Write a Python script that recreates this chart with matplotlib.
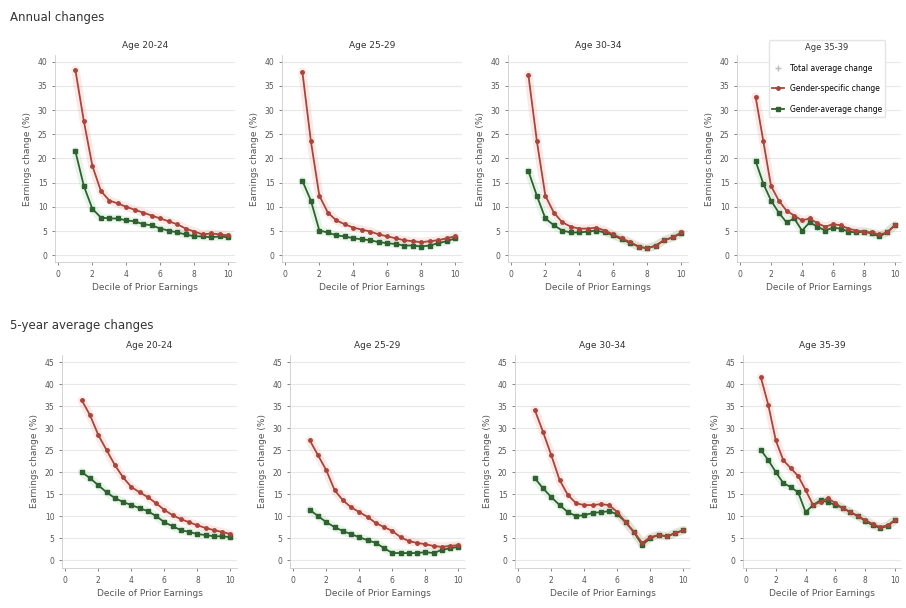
import numpy as np
import matplotlib
matplotlib.use("Agg")
import matplotlib.pyplot as plt
from matplotlib.lines import Line2D

# ---- data ----------------------------------------------------------
x_pos = [1, 1.5, 2, 2.5, 3, 3.5, 4, 4.5, 5, 5.5, 6, 6.5, 7, 7.5, 8, 8.5, 9, 9.5, 10]
ages = ["Age 20-24", "Age 25-29", "Age 30-34", "Age 35-39"]
x_ticks = [0, 2, 4, 6, 8, 10]
y_ticks_annual = [0, 5, 10, 15, 20, 25, 30, 35, 40]
y_ticks_5yr = [0, 5, 10, 15, 20, 25, 30, 35, 40, 45]
legend_labels = ["Total average change", "Gender-specific change", "Gender-average change"]

# annual changes: gender-specific (red) / gender-average (green)
annual_spec_2024 = [38.3, 27.7, 18.5, 13.3, 11.3, 10.7, 10.0, 9.4, 8.8, 8.2, 7.6, 7.0, 6.4, 5.5, 4.9, 4.3, 4.5, 4.3, 4.1]
annual_avg_2024 = [21.5, 14.3, 9.6, 7.8, 7.6, 7.6, 7.2, 7.0, 6.4, 6.2, 5.5, 5.1, 4.7, 4.3, 3.9, 3.9, 3.7, 3.9, 3.7]
annual_spec_2529 = [37.9, 23.6, 12.3, 8.8, 7.2, 6.4, 5.7, 5.3, 4.9, 4.3, 3.9, 3.5, 3.1, 2.9, 2.7, 2.9, 3.1, 3.5, 3.9]
annual_avg_2529 = [15.4, 11.3, 5.1, 4.7, 4.1, 3.9, 3.5, 3.3, 3.1, 2.7, 2.5, 2.3, 2.0, 2.0, 1.8, 2.0, 2.5, 2.9, 3.5]
annual_spec_3034 = [37.3, 23.6, 12.3, 8.8, 6.8, 5.9, 5.5, 5.5, 5.7, 5.1, 4.3, 3.5, 2.7, 1.8, 1.4, 2.0, 3.1, 3.7, 4.7]
annual_avg_3034 = [17.4, 12.3, 7.6, 6.2, 5.1, 4.7, 4.7, 4.9, 5.1, 4.7, 4.1, 3.3, 2.5, 1.8, 1.4, 2.0, 3.1, 3.7, 4.5]
annual_spec_3539 = [32.8, 23.6, 14.3, 11.3, 9.2, 8.2, 7.2, 7.6, 6.6, 5.9, 6.4, 6.2, 5.5, 5.1, 4.9, 4.7, 4.3, 4.7, 6.2]
annual_avg_3539 = [19.5, 14.8, 11.3, 8.8, 6.8, 7.6, 5.1, 6.8, 5.9, 5.1, 5.7, 5.5, 4.9, 4.7, 4.9, 4.5, 3.9, 4.7, 6.2]

# 5-year average changes
fivey_spec_2024 = [36.3, 32.9, 28.4, 25.0, 21.6, 18.8, 16.6, 15.4, 14.3, 12.9, 11.4, 10.2, 9.3, 8.6, 7.9, 7.3, 6.8, 6.4, 5.9]
fivey_avg_2024 = [20.0, 18.6, 17.0, 15.4, 14.1, 13.2, 12.5, 11.8, 11.1, 10.0, 8.6, 7.7, 6.8, 6.4, 5.9, 5.7, 5.4, 5.4, 5.2]
fivey_spec_2529 = [27.2, 23.8, 20.4, 15.9, 13.6, 12.0, 10.9, 9.8, 8.4, 7.5, 6.6, 5.2, 4.3, 3.9, 3.6, 3.2, 3.0, 3.2, 3.4]
fivey_avg_2529 = [11.4, 10.0, 8.6, 7.5, 6.6, 5.9, 5.2, 4.5, 3.9, 2.7, 1.6, 1.6, 1.6, 1.6, 1.8, 1.6, 2.3, 2.7, 3.0]
fivey_spec_3034 = [34.1, 29.1, 23.8, 18.2, 14.8, 12.9, 12.5, 12.5, 12.7, 12.5, 10.9, 8.6, 6.4, 3.9, 5.2, 5.7, 5.4, 6.1, 6.8]
fivey_avg_3034 = [18.6, 16.3, 14.3, 12.5, 10.9, 10.0, 10.2, 10.7, 10.9, 11.1, 10.4, 8.6, 6.4, 3.4, 5.0, 5.7, 5.4, 6.1, 6.8]
fivey_spec_3539 = [41.5, 35.2, 27.2, 22.7, 20.9, 19.1, 15.9, 12.5, 13.2, 14.1, 12.9, 11.8, 10.9, 10.0, 9.1, 8.2, 7.5, 7.9, 9.1]
fivey_avg_3539 = [25.0, 22.7, 20.0, 17.5, 16.6, 15.4, 10.9, 12.5, 13.6, 13.2, 12.5, 11.8, 10.9, 10.0, 8.9, 7.9, 7.3, 7.7, 9.1]

annual_spec = [annual_spec_2024, annual_spec_2529, annual_spec_3034, annual_spec_3539]
annual_avg = [annual_avg_2024, annual_avg_2529, annual_avg_3034, annual_avg_3539]
fivey_spec = [fivey_spec_2024, fivey_spec_2529, fivey_spec_3034, fivey_spec_3539]
fivey_avg = [fivey_avg_2024, fivey_avg_2529, fivey_avg_3034, fivey_avg_3539]

RED = "#a9453b"
GREEN = "#2f6131"
TXT = "#555555"

plt.rcParams["font.family"] = ["DejaVu Sans"]
fig = plt.figure(figsize=(9.06, 6.08), dpi=100)
W, H = 906.0, 608.0

# panel left edges in pixels
top_lefts = [55, 282, 508, 737]
bot_lefts = [62, 290, 515, 743]


def draw_panel(ax, spec, avg, yticks, ylim, title):
    # soft halo behind each line
    for ys, c in [(spec, "#e8877c"), (avg, "#7fc98a")]:
        ax.plot(x_pos, ys, color=c, lw=6, alpha=0.18, solid_capstyle="round", zorder=2)
    ax.plot(x_pos, spec, color=RED, lw=1.3, marker="o", ms=2.5, zorder=4)
    ax.plot(x_pos, avg, color=GREEN, lw=1.3, marker="s", ms=2.5, zorder=3)
    ax.set_xlim(-0.2, 10.4)
    ax.set_ylim(*ylim)
    ax.set_xticks(x_ticks)
    ax.set_yticks(yticks)
    ax.grid(axis="y", color="#e8e8e8", lw=0.8)
    ax.set_axisbelow(True)
    for s in ["top", "right"]:
        ax.spines[s].set_visible(False)
    for s in ["left", "bottom"]:
        ax.spines[s].set_color("#cccccc")
        ax.spines[s].set_linewidth(0.6)
    ax.tick_params(labelsize=5.5, colors=TXT, length=2, width=0.5)
    ax.set_xlabel("Decile of Prior Earnings", fontsize=6.5, color=TXT, labelpad=3)
    ax.set_ylabel("Earnings change (%)", fontsize=6.5, color=TXT, labelpad=4)
    if title:
        ax.set_title(title, fontsize=6.5, color="#333333", pad=5)


for i in range(4):
    w = 180 if i < 3 else 164
    ax = fig.add_axes([top_lefts[i] / W, 1 - 262 / H, w / W, 207 / H])
    draw_panel(ax, annual_spec[i], annual_avg[i], y_ticks_annual, (-1.4, 41.4),
               ages[i] if i < 3 else None)
    if i == 3:
        handles = [
            Line2D([], [], color="#bbbbbb", lw=0, marker="+", ms=4),
            Line2D([], [], color=RED, lw=1.3, marker="o", ms=2.5),
            Line2D([], [], color=GREEN, lw=1.3, marker="s", ms=2.5),
        ]
        leg = ax.legend(handles, legend_labels, title=ages[i], loc="upper left",
                        bbox_to_anchor=(0.17, 1.09), fontsize=5.5, title_fontsize=6,
                        labelspacing=1.5, handlelength=1.6,
                        frameon=True, framealpha=1, edgecolor="#e4e4e4")
        leg.get_title().set_color("#333333")

for i in range(4):
    w = 175 if i < 3 else 158
    ax = fig.add_axes([bot_lefts[i] / W, 1 - 568 / H, w / W, 213 / H])
    draw_panel(ax, fivey_spec[i], fivey_avg[i], y_ticks_5yr, (-1.8, 46.6), ages[i])

fig.text(10 / W, 1 - 17 / H, "Annual changes", fontsize=8.5, color="#333333", va="center")
fig.text(10 / W, 1 - 325 / H, "5-year average changes", fontsize=8.5, color="#333333", va="center")

fig.savefig("out.png", dpi=100)
